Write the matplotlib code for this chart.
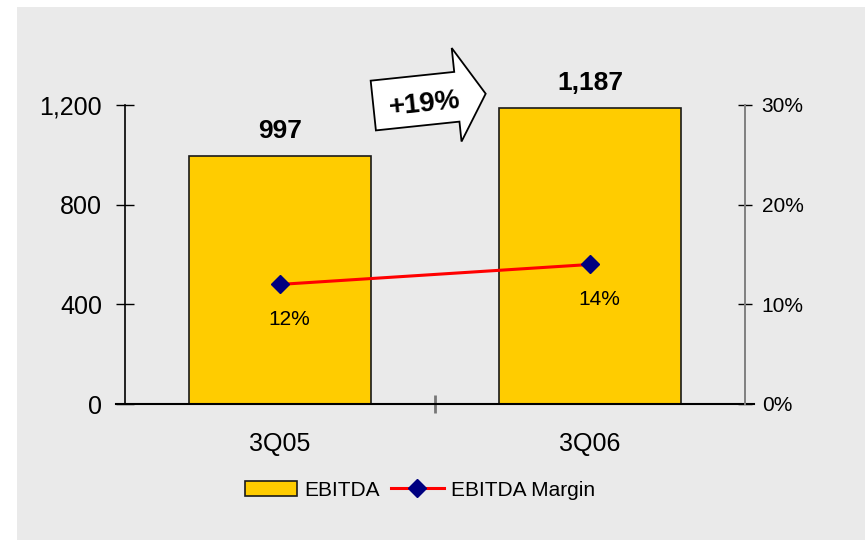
import matplotlib
matplotlib.use("Agg")
from matplotlib import pyplot as plt
from matplotlib.patches import Rectangle, Polygon
from matplotlib.transforms import Affine2D
from matplotlib.ticker import FuncFormatter

plt.rcParams["font.family"] = ["Liberation Sans", "DejaVu Sans"]

periods = ["3Q05", "3Q06"]
ebitda = [997, 1187]
margin = [12, 14]
growth_label = "+19%"

BG = "#eaeaea"
BAR = "#ffcc00"

fig = plt.figure(figsize=(8.65, 5.4), dpi=100)
fig.patch.set_facecolor("white")
fig.patches.append(Rectangle((17 / 865, 0), 1, 1 - 7 / 540, transform=fig.transFigure,
                             facecolor=BG, edgecolor="none", zorder=-10))

ax = fig.add_axes([125 / 865, 1 - 404 / 540, 620 / 865, 299 / 540])
ax.set_facecolor("none")
x = list(range(len(periods)))
bars = ax.bar(x, ebitda, width=0.59, color=BAR, edgecolor="#1a1a1a", linewidth=1.2,
              label="EBITDA", zorder=2)
ax.set_xlim(-0.5, 1.5)
ax.set_ylim(0, 1200)
ax.set_yticks([0, 400, 800, 1200])
ax.yaxis.set_major_formatter(FuncFormatter(lambda v, _: f"{v:,.0f}"))
ax.tick_params(axis="y", direction="inout", length=13, width=1, pad=10, labelsize=18)

ax.set_xticks(x)
ax.set_xticklabels(periods)
ax.set_xticks([0.5], minor=True)
ax.tick_params(axis="x", which="major", length=0, pad=20, labelsize=18)
ax.tick_params(axis="x", which="minor", direction="inout", length=13, width=2, color="#777777")
for side in ("top", "right"):
    ax.spines[side].set_visible(False)
ax.spines["left"].set_linewidth(1.2)
ax.spines["bottom"].set_linewidth(1.5)
ax.spines["bottom"].set_bounds(-0.53, 1.53)

for bar, v in zip(bars, ebitda):
    ax.annotate(f"{v:,}", (bar.get_x() + bar.get_width() / 2, v), xytext=(0, 13),
                textcoords="offset points", ha="center", va="baseline",
                fontsize=19, fontweight="bold")

ax2 = ax.twinx()
ax2.set_ylim(0, 30)
ax2.set_yticks([0, 10, 20, 30])
ax2.yaxis.set_major_formatter(FuncFormatter(lambda v, _: f"{v:.0f}%"))
ax2.tick_params(axis="y", direction="inout", length=10, width=1, pad=7, labelsize=15)
for side in ("top", "left", "bottom"):
    ax2.spines[side].set_visible(False)
ax2.spines["right"].set_color("#808080")
ax2.spines["right"].set_linewidth(1.4)
line, = ax2.plot(x, margin, color="#ff0000", linewidth=2.2, marker="D", markersize=9.5,
                 markerfacecolor="#000080", markeredgecolor="#000080", label="EBITDA Margin",
                 zorder=3)
for xi, m in zip(x, margin):
    ax2.annotate(f"{m}%", (xi, m), xytext=(7, -29), textcoords="offset points",
                 ha="center", va="baseline", fontsize=15)

# growth arrow between the two bars, outline in pixels around its centre, tilted 6 deg
arrow_outline = [(-53, -25), (31, -25), (31, -45), (60, 0), (31, 49), (31, 25), (-53, 25)]
arrow_centre = (426, 540 - 100)
fig.patches.append(Polygon(arrow_outline, closed=True, facecolor="white", edgecolor="black",
                           linewidth=1.3,
                           transform=Affine2D().rotate_deg(6).translate(*arrow_centre)))
fig.text((arrow_centre[0] - 1) / 865, (arrow_centre[1] - 4) / 540, growth_label, fontsize=20,
         fontweight="bold", ha="center", va="center", rotation=6)

fig.legend([bars, line], ["EBITDA", "EBITDA Margin"], loc="center",
           bbox_to_anchor=(420 / 865, 1 - 490 / 540), ncol=2, frameon=False,
           fontsize=15, handlelength=2.5, handletextpad=0.35, columnspacing=0.55)

fig.savefig("out.png", dpi=100)
